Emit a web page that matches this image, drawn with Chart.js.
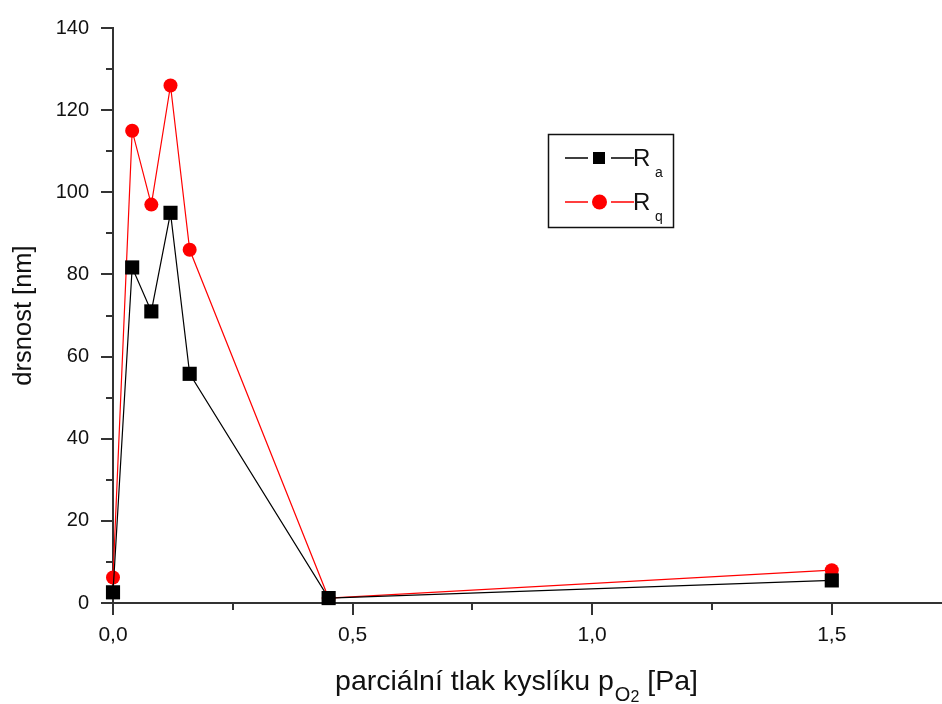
<!DOCTYPE html>
<html>
<head>
<meta charset="utf-8">
<script src="https://cdn.jsdelivr.net/npm/chart.js@4/dist/chart.umd.min.js"></script>
<style>
  html, body { margin: 0; padding: 0; background: #fff; }
  #wrap { width: 942px; height: 704px; }
</style>
</head>
<body>
<div id="wrap"><canvas id="c" width="942" height="704"></canvas></div>
<script>
// partial oxygen pressure [Pa] vs. roughness [nm]
const pressure = [0, 0.04, 0.08, 0.12, 0.16, 0.45, 1.5];
const ra = [2.6, 81.7, 71, 95, 55.8, 1.2, 5.5];
const rq = [6.2, 115, 97, 126, 86, 1.2, 8];

const X_MAJOR = 0.5, X_STEP = 0.25;
const Y_MAJOR = 20, Y_STEP = 10;

const FONT = "'Liberation Sans', Arial, sans-serif";
const AXIS = "#333";

const toPts = (ys) => ys.map((y, i) => ({ x: pressure[i], y }));
const isMajor = (v, step) => Math.abs(v / step - Math.round(v / step)) < 1e-6;

// outward tick marks, long on labelled values, short in between
const tickMarks = {
  id: "tickMarks",
  afterDraw(chart) {
    const { ctx, chartArea, scales } = chart;
    ctx.save();
    ctx.strokeStyle = AXIS;
    ctx.lineWidth = 2;
    ctx.beginPath();
    scales.x.ticks.forEach((t) => {
      const px = Math.round(scales.x.getPixelForValue(t.value));
      const len = isMajor(t.value, X_MAJOR) ? 12 : 7;
      ctx.moveTo(px, chartArea.bottom);
      ctx.lineTo(px, chartArea.bottom + len);
    });
    scales.y.ticks.forEach((t) => {
      const py = Math.round(scales.y.getPixelForValue(t.value));
      const len = isMajor(t.value, Y_MAJOR) ? 12 : 7;
      ctx.moveTo(chartArea.left, py);
      ctx.lineTo(chartArea.left - len, py);
    });
    ctx.stroke();
    ctx.restore();
  },
};

// x title has a subscript, so it is set by hand
const xTitle = {
  id: "xTitle",
  afterDraw(chart) {
    const { ctx } = chart;
    const big = `28.5px ${FONT}`, small = `20px ${FONT}`, tiny = `16px ${FONT}`;
    const a = "parciální tlak kyslíku p", sub = "O", sub2 = "2", b = " [Pa]";
    ctx.save();
    ctx.fillStyle = "#111";
    ctx.textBaseline = "alphabetic";
    ctx.font = big;
    const wa = ctx.measureText(a).width, wb = ctx.measureText(b).width;
    ctx.font = small;
    const ws = ctx.measureText(sub).width;
    ctx.font = tiny;
    const ws2 = ctx.measureText(sub2).width;
    const total = wa + ws + ws2 + wb;
    let x = 516 - total / 2;
    const base = 690;
    ctx.font = big; ctx.fillText(a, x, base); x += wa + 1;
    ctx.font = small; ctx.fillText(sub, x, base + 11); x += ws;
    ctx.font = tiny; ctx.fillText(sub2, x, base + 12); x += ws2;
    ctx.font = big; ctx.fillText(b, x, base);
    ctx.restore();
  },
};

// boxed legend: line - marker - line, then R with subscript
const boxLegend = {
  id: "boxLegend",
  afterDraw(chart) {
    const { ctx } = chart;
    const entries = [
      { ds: 0, y: 158, sub: "a" },
      { ds: 1, y: 202, sub: "q" },
    ];
    ctx.save();
    ctx.strokeStyle = "#111";
    ctx.lineWidth = 1.5;
    ctx.strokeRect(548.5, 134.5, 125, 93);
    entries.forEach((e) => {
      const d = chart.data.datasets[e.ds];
      ctx.strokeStyle = d.borderColor;
      ctx.lineWidth = 1.3;
      ctx.beginPath();
      ctx.moveTo(565, e.y); ctx.lineTo(588, e.y);
      ctx.moveTo(611, e.y); ctx.lineTo(634, e.y);
      ctx.stroke();
      ctx.fillStyle = d.pointBackgroundColor;
      if (d.pointStyle === "rect") {
        ctx.fillRect(593, e.y - 6, 12, 12);
      } else {
        ctx.beginPath(); ctx.arc(599.5, e.y, 7.5, 0, Math.PI * 2); ctx.fill();
      }
      ctx.fillStyle = "#111";
      ctx.font = `24px ${FONT}`;
      ctx.fillText("R", 633, e.y + 8);
      ctx.font = `14px ${FONT}`;
      ctx.fillText(e.sub, 655, e.y + 19);
    });
    ctx.restore();
  },
};

new Chart(document.getElementById("c"), {
  type: "line",
  data: {
    datasets: [
      {
        label: "Ra",
        data: toPts(ra),
        borderColor: "#000",
        backgroundColor: "#000",
        pointBackgroundColor: "#000",
        pointBorderColor: "#000",
        pointStyle: "rect",
        pointRadius: 10,
        pointBorderWidth: 0,
        borderWidth: 1.2,
        tension: 0,
        clip: false,
      },
      {
        label: "Rq",
        data: toPts(rq),
        borderColor: "#ff0000",
        backgroundColor: "#ff0000",
        pointBackgroundColor: "#ff0000",
        pointBorderColor: "#ff0000",
        pointStyle: "circle",
        pointRadius: 7,
        pointBorderWidth: 0,
        borderWidth: 1.2,
        tension: 0,
        clip: false,
      },
    ],
  },
  options: {
    responsive: false,
    animation: false,
    layout: { autoPadding: false, padding: { top: 28, right: 0, left: 0, bottom: 0 } },
    plugins: { legend: { display: false }, tooltip: { enabled: false } },
    scales: {
      x: {
        type: "linear",
        min: 0,
        max: 1.73,
        afterFit: (s) => { s.height = 101; s.paddingLeft = 0; s.paddingRight = 0; },
        border: { display: true, color: AXIS, width: 2 },
        grid: { drawOnChartArea: false, drawTicks: false },
        ticks: {
          stepSize: X_STEP,
          includeBounds: false,
          autoSkip: false,
          maxRotation: 0,
          padding: 20,
          color: "#111",
          font: { family: FONT, size: 21 },
          callback: (v) => (isMajor(v, X_MAJOR) ? v.toFixed(1).replace(".", ",") : ""),
        },
      },
      y: {
        min: 0,
        max: 140,
        afterFit: (s) => { s.width = 113; s.paddingTop = 0; s.paddingBottom = 0; },
        border: { display: true, color: AXIS, width: 2 },
        grid: { drawOnChartArea: false, drawTicks: false },
        title: {
          display: true,
          text: "drsnost [nm]",
          color: "#111",
          font: { family: FONT, size: 25.5 },
          padding: { top: 9, bottom: 0 },
        },
        ticks: {
          stepSize: Y_STEP,
          autoSkip: false,
          padding: 24,
          color: "#111",
          font: { family: FONT, size: 20 },
          callback: (v) => (isMajor(v, Y_MAJOR) ? String(v) : ""),
        },
      },
    },
  },
  plugins: [tickMarks, xTitle, boxLegend],
});
</script>
</body>
</html>
